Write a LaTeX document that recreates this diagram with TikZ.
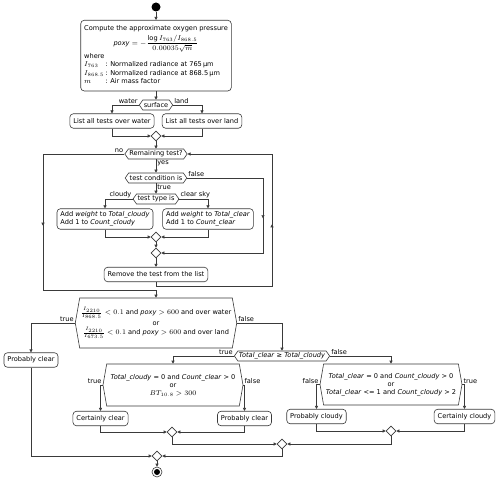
\documentclass[tikz,border=0pt]{standalone}
\usepackage{fontspec}
\setmainfont{DejaVu Sans}
\usepackage{tikz}
\usetikzlibrary{positioning, shapes.geometric, shapes.symbols, arrows.meta, decorations.markings}

\definecolor{flowgray}{HTML}{3A3A3A}

\begin{document}
\begin{tikzpicture}[x=1pt, y=-1pt, font=\fontsize{6.6}{8}\selectfont,
    action/.style={draw=flowgray, line width=0.6pt, fill=white, rounded corners=3.5pt, inner xsep=3.5pt, inner ysep=3pt, minimum height=14.5pt},
    choice/.style={draw=flowgray, line width=0.6pt, fill=white, shape=signal, signal to=west and east, signal pointer angle=110, inner xsep=1pt, inner ysep=1pt, minimum height=10pt},
    bigchoice/.style={choice, signal pointer angle=160, align=center},
    merge/.style={draw=flowgray, line width=0.6pt, fill=white, diamond, inner sep=0pt, minimum width=10pt, minimum height=10pt},
    flow/.style={color=flowgray, line width=0.6pt, -{Triangle[length=3pt,width=3pt]}},
    lbl/.style={inner sep=1pt, text=black},
    midarrow/.style={postaction={decorate}, decoration={markings, mark=at position #1 with {\arrow{Triangle[length=3pt,width=3pt]}}}}]
    \useasboundingbox (0,0) rectangle (500,481);

    % Start and oxygen pressure
    \node[circle, fill=black, inner sep=0pt, minimum size=9pt] (start) at (156,7) {};
    \node[action, anchor=north, inner ysep=4.5pt] (compute) at (156,20) {\renewcommand\arraystretch{1.07}\begin{tabular}{@{}l@{}}
        Compute the approximate oxygen pressure\\[1.5pt]
        \multicolumn{1}{@{}c@{}}{\textit{poxy} $= -\displaystyle\frac{\log I_{763}/I_{868.5}}{0.00035\sqrt{m}}$}\\[3pt]
        where\\
        \begin{tabular}{@{}l@{\,}l@{}}
        $I_{763}$ & : Normalized radiance at 765\,µm\\
        $I_{868.5}$ & : Normalized radiance at 868.5\,µm\\
        $m$ & : Air mass factor
        \end{tabular}
    \end{tabular}};

    % Surface type
    \node[choice] (surface) at (156,105) {surface};
    \node[action] (water) at (112,121) {List all tests over water};
    \node[action] (land) at (202,121) {List all tests over land};
    \node[merge] (m1) at (156,136) {};

    % Loop over the tests
    \node[choice] (remain) at (156,154) {Remaining test?};
    \node[choice] (testcond) at (156,178) {test condition is};
    \node[choice] (testtype) at (156,199) {test type is};
    \node[action, align=left] (addcloudy) at (105,219) {Add \textit{weight} to \textit{Total\_cloudy}\\Add 1 to \textit{Count\_cloudy}};
    \node[action, align=left] (addclear) at (208,219) {Add \textit{weight} to \textit{Total\_clear}\\Add 1 to \textit{Count\_clear}};
    \node[merge] (m2) at (156,237) {};
    \node[merge] (m3) at (156,253) {};
    \node[action] (remove) at (156,274.5) {Remove the test from the list};
    \coordinate (loopL) at (43,290);
    \coordinate (loopR) at (272,286);
    \coordinate (falseR) at (263,0);

    % Classification
    \node[bigchoice, minimum width=152pt, minimum height=50pt] (thresh) at (156,323) {$\frac{I_{2210}}{I_{868.5}} < 0.1$ and \textit{poxy} $> 600$ and over water\\[3pt] or\\[1pt] $\frac{I_{2210}}{I_{673.5}} < 0.1$ and \textit{poxy} $> 600$ and over land};
    \node[action] (pclearA) at (31,360) {Probably clear};
    \node[choice] (compare) at (282,356) {\textit{Total\_clear} ≥ \textit{Total\_cloudy}};
    \node[bigchoice, minimum width=140pt, minimum height=42pt] (clearchk) at (173,385) {\textit{Total\_cloudy} = 0 and \textit{Count\_clear} > 0\\or\\$BT_{10.8} > 300$};
    \node[bigchoice, minimum width=142pt, minimum height=41pt] (cloudchk) at (391,384.5) {\textit{Total\_clear} = 0 and \textit{Count\_cloudy} > 0\\or\\\textit{Total\_clear} <= 1 and \textit{Count\_cloudy} > 2};
    \node[action] (cclear) at (100.5,418.5) {Certainly clear};
    \node[action] (pclearB) at (244.5,418.5) {Probably clear};
    \node[action] (pcloudy) at (316.5,416.5) {Probably cloudy};
    \node[action] (ccloudy) at (464.5,416.5) {Certainly cloudy};
    \node[merge] (m4) at (172,432) {};
    \node[merge] (m5) at (391,431) {};
    \node[merge] (m6) at (282,444) {};
    \node[merge] (m7) at (157,456) {};
    \node[circle, draw=flowgray, line width=0.6pt, fill=white, inner sep=0pt, minimum size=10pt,
        path picture={\fill[black] (path picture bounding box.center) circle (3pt);}] (stop) at (157,472) {};

    % Connectors
    \draw[flow] (start) -- (compute.north);
    \draw[flow] (compute.south) -- (surface.north);
    \draw[flow] (surface.west) -| node[lbl, pos=0, above left] {water} (water.north);
    \draw[flow] (surface.east) -| node[lbl, pos=0, above right] {land} (land.north);
    \draw[flow] (water.south) |- (m1.west);
    \draw[flow] (land.south) |- (m1.east);
    \draw[flow] (m1.south) -- (remain.north);
    \draw[flow] (remain.south) -- node[lbl, pos=0, below right] {yes} (testcond.north);
    \draw[flow, midarrow=0.453] (remain.west) -| node[lbl, pos=0, above left] {no} (loopL) -- (thresh.north |- loopL) -- (thresh.north);
    \draw[flow] (testcond.south) -- node[lbl, pos=0, below right] {true} (testtype.north);
    \draw[flow, midarrow=0.46] (testcond.east) -| node[lbl, pos=0, above right] {false} (falseR |- m3) -- (m3.east);
    \draw[flow] (testtype.west) -| node[lbl, pos=0, above left] {cloudy} (addcloudy.north);
    \draw[flow] (testtype.east) -| node[lbl, pos=0, above right] {clear sky} (addclear.north);
    \draw[flow] (addcloudy.south) |- (m2.west);
    \draw[flow] (addclear.south) |- (m2.east);
    \draw[flow] (m2.south) -- (m3.north);
    \draw[flow] (m3.south) -- (remove.north);
    \draw[flow, midarrow=0.54] (remove.south) |- (loopR) |- (remain.east);
    \draw[flow] (thresh.west) -| node[lbl, pos=0, above left] {true} (pclearA.north);
    \draw[flow] (thresh.east) -| node[lbl, pos=0, above right] {false} (compare.north);
    \draw[flow] (compare.west) -| node[lbl, pos=0, above left] {true} (clearchk.north);
    \draw[flow] (compare.east) -| node[lbl, pos=0, above right] {false} (cloudchk.north);
    \draw[flow] (clearchk.west) -| node[lbl, pos=0, above left] {true} (cclear.north);
    \draw[flow] (clearchk.east) -| node[lbl, pos=0, above right] {false} (pclearB.north);
    \draw[flow] (cloudchk.west) -| node[lbl, pos=0, above left] {false} (pcloudy.north);
    \draw[flow] (cloudchk.east) -| node[lbl, pos=0, above right] {true} (ccloudy.north);
    \draw[flow] (cclear.south) |- (m4.west);
    \draw[flow] (pclearB.south) |- (m4.east);
    \draw[flow] (pcloudy.south) |- (m5.west);
    \draw[flow] (ccloudy.south) |- (m5.east);
    \draw[flow] (m4.south) |- (m6.west);
    \draw[flow] (m5.south) |- (m6.east);
    \draw[flow] (pclearA.south) |- (m7.west);
    \draw[flow] (m6.south) |- (m7.east);
    \draw[flow] (m7.south) -- (stop.north);
\end{tikzpicture}
\end{document}
